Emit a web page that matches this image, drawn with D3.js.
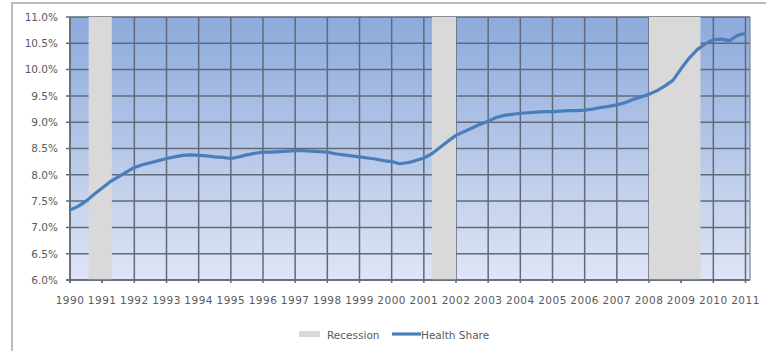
<!DOCTYPE html>
<html>
<head>
<meta charset="utf-8">
<script src="https://cdn.jsdelivr.net/npm/d3@7"></script>
<style>
  html, body { margin: 0; padding: 0; background: #fff; }
  svg { display: block; font-family: "DejaVu Sans", Verdana, sans-serif; }
</style>
</head>
<body>
<svg id="chart" width="766" height="351"></svg>
<script>
// Health spending share, quarterly, starting 1990 Q1
const startYear = 1990;
const healthShare = [
  7.33, 7.40, 7.50, 7.63, 7.75, 7.87, 7.96, 8.05,
  8.14, 8.19, 8.23, 8.27, 8.31, 8.34, 8.37, 8.38,
  8.37, 8.36, 8.34, 8.33, 8.31, 8.34, 8.38, 8.41,
  8.43, 8.43, 8.44, 8.45, 8.46, 8.46, 8.45, 8.44,
  8.43, 8.40, 8.38, 8.36, 8.34, 8.32, 8.30, 8.27,
  8.25, 8.21, 8.23, 8.27, 8.32, 8.40, 8.52, 8.64,
  8.75, 8.82, 8.89, 8.96, 9.02, 9.09, 9.13, 9.15,
  9.17, 9.18, 9.19, 9.20, 9.20, 9.21, 9.22, 9.22,
  9.23, 9.25, 9.28, 9.30, 9.33, 9.37, 9.43, 9.48,
  9.53, 9.60, 9.69, 9.80, 10.02, 10.22, 10.38, 10.49,
  10.57, 10.58, 10.55, 10.65, 10.69
];
// recession periods [start, end] in fractional years
const recessions = [[1990.58, 1991.3], [2001.25, 2002.0], [2008.0, 2009.6]];
const yearTicks = d3.range(1990, 2012);
const yTicks = [6.0, 6.5, 7.0, 7.5, 8.0, 8.5, 9.0, 9.5, 10.0, 10.5, 11.0];

const svg = d3.select('#chart');
const pLeft = 70, pRight = 745.5, pTop = 17, pBottom = 280, plotRight = 750;

const x = d3.scaleLinear().domain([1990, 2011]).range([pLeft, pRight]);
const y = d3.scaleLinear().domain([6, 11]).range([pBottom, pTop]);

// outer frame
svg.append('path').attr('d', `M12,351 L12,3 L766,3`).attr('fill', 'none')
  .attr('stroke', '#a8a8a8').attr('stroke-width', 1.5);

// plot background gradient
const grad = svg.append('defs').append('linearGradient').attr('id', 'bg')
  .attr('x1', 0).attr('y1', 0).attr('x2', 0).attr('y2', 1);
grad.append('stop').attr('offset', '0%').attr('stop-color', '#8caadc');
grad.append('stop').attr('offset', '50%').attr('stop-color', '#b5c7e8');
grad.append('stop').attr('offset', '100%').attr('stop-color', '#dfe5f5');
svg.append('rect').attr('x', pLeft).attr('y', pTop).attr('width', plotRight - pLeft)
  .attr('height', pBottom - pTop).attr('fill', 'url(#bg)');

const gridColor = '#606a79';
// horizontal gridlines + y ticks
svg.append('g').selectAll('line').data(yTicks).join('line')
  .attr('x1', pLeft - 4).attr('x2', plotRight)
  .attr('y1', d => y(d)).attr('y2', d => y(d))
  .attr('stroke', gridColor).attr('stroke-width', 1.5);
// vertical gridlines + x ticks
svg.append('g').selectAll('line').data(yearTicks).join('line')
  .attr('x1', d => x(d)).attr('x2', d => x(d))
  .attr('y1', pTop).attr('y2', pBottom + 3)
  .attr('stroke', gridColor).attr('stroke-width', 1.5);

// recession bands sit on top of the grid
svg.append('g').selectAll('rect').data(recessions).join('rect')
  .attr('x', d => x(d[0])).attr('width', d => x(d[1]) - x(d[0]))
  .attr('y', pTop).attr('height', pBottom - pTop)
  .attr('fill', '#d9d9d9');

// axes and border
svg.append('line').attr('x1', pLeft).attr('x2', pLeft).attr('y1', pTop).attr('y2', pBottom + 3)
  .attr('stroke', gridColor).attr('stroke-width', 1.5);
svg.append('line').attr('x1', pLeft - 4).attr('x2', plotRight).attr('y1', pBottom).attr('y2', pBottom)
  .attr('stroke', gridColor).attr('stroke-width', 1.5);
svg.append('line').attr('x1', plotRight).attr('x2', plotRight).attr('y1', pTop).attr('y2', pBottom)
  .attr('stroke', '#7d8593').attr('stroke-width', 1.2);
recessions.forEach(r => {
  yearTicks.filter(t => t > r[0] && t < r[1]).forEach(t => {
    svg.append('line').attr('x1', x(t)).attr('x2', x(t)).attr('y1', pBottom).attr('y2', pBottom + 3)
      .attr('stroke', gridColor).attr('stroke-width', 1.5);
  });
});

// tick labels
const textColor = '#5a5a5a';
svg.append('g').selectAll('text').data(yTicks).join('text')
  .attr('x', pLeft - 12).attr('y', d => y(d) + 3.8)
  .attr('text-anchor', 'end').attr('fill', textColor).style('font-size', '10.5px')
  .text(d => d.toFixed(1) + '%');
svg.append('g').selectAll('text').data(yearTicks).join('text')
  .attr('x', d => x(d)).attr('y', 304)
  .attr('text-anchor', 'middle').attr('fill', textColor).style('font-size', '10.5px')
  .style('letter-spacing', '0.5px')
  .text(d => d);

// data line
const line = d3.line().x((d, i) => x(startYear + i / 4)).y(d => y(d));
svg.append('path').datum(healthShare).attr('d', line).attr('fill', 'none')
  .attr('stroke', '#4a7ebb').attr('stroke-width', 3.2).attr('stroke-linejoin', 'round');

// legend
const lg = svg.append('g');
lg.append('rect').attr('x', 299).attr('y', 331).attr('width', 21).attr('height', 6).attr('fill', '#d9d9d9');
lg.append('text').attr('x', 327).attr('y', 338.5).attr('fill', textColor).style('font-size', '10.5px').text('Recession');
lg.append('line').attr('x1', 392).attr('x2', 421).attr('y1', 334).attr('y2', 334)
  .attr('stroke', '#4a7ebb').attr('stroke-width', 3.2);
lg.append('text').attr('x', 421).attr('y', 338.5).attr('fill', textColor).style('font-size', '10.5px').text('Health Share');
</script>
</body>
</html>
